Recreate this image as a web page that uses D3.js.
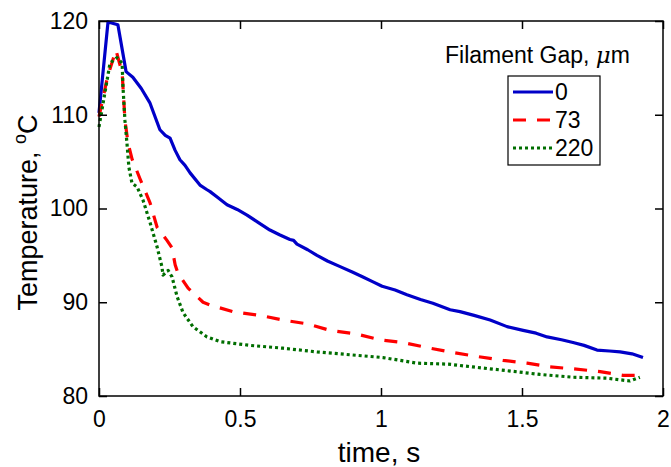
<!DOCTYPE html>
<html>
<head>
<meta charset="utf-8">
<script src="https://cdn.jsdelivr.net/npm/d3@7"></script>
<style>
  html, body { margin: 0; padding: 0; background: #fff; }
  svg { display: block; font-family: "Liberation Sans", Arial, sans-serif; }
</style>
</head>
<body>
<svg id="chart" width="671" height="467"></svg>
<script>
// ---- data ----
const xTicks = [0, 0.5, 1, 1.5, 2];
const yTicks = [80, 90, 100, 110, 120];
const seriesNames = ["0", "73", "220"];
const legendTitle = "Filament Gap, ";

const blueTime = [0, 0.032, 0.067, 0.096, 0.12, 0.15, 0.18, 0.216, 0.235, 0.252, 0.27, 0.287, 0.305, 0.323, 0.358, 0.383, 0.394, 0.42, 0.454, 0.49, 0.525, 0.56, 0.606, 0.64, 0.677, 0.69, 0.702, 0.74, 0.773, 0.81, 0.855, 0.9, 0.936, 0.97, 1.004, 1.05, 1.092, 1.14, 1.184, 1.245, 1.28, 1.33, 1.387, 1.447, 1.504, 1.55, 1.589, 1.64, 1.681, 1.72, 1.766, 1.81, 1.848, 1.89, 1.929];
const blueTemp = [110.2, 119.9, 119.6, 114.6, 114.0, 112.8, 111.3, 108.4, 107.8, 107.5, 106.2, 105.2, 104.6, 103.8, 102.5, 102.0, 101.8, 101.2, 100.4, 99.9, 99.3, 98.6, 97.7, 97.2, 96.7, 96.6, 96.2, 95.6, 95.0, 94.4, 93.8, 93.2, 92.7, 92.2, 91.7, 91.3, 90.8, 90.3, 89.9, 89.2, 89.0, 88.6, 88.1, 87.4, 87.0, 86.7, 86.3, 86.0, 85.7, 85.4, 84.9, 84.8, 84.7, 84.5, 84.1];

const redTime = [0, 0.03, 0.06, 0.082, 0.092, 0.103, 0.117, 0.145, 0.181, 0.206, 0.241, 0.259, 0.27, 0.28, 0.316, 0.369, 0.394, 0.475, 0.571, 0.652, 0.738, 0.819, 0.915, 0.996, 1.078, 1.174, 1.245, 1.344, 1.433, 1.518, 1.599, 1.681, 1.777, 1.858, 1.929];
const redTemp = [109.8, 114.0, 116.9, 114.5, 109.4, 107.0, 105.3, 103.2, 100.6, 98.0, 96.6, 95.8, 94.0, 93.1, 91.5, 90.0, 89.7, 89.0, 88.6, 88.1, 87.7, 87.0, 86.6, 86.0, 85.7, 85.1, 84.7, 84.2, 83.8, 83.5, 83.1, 82.9, 82.6, 82.2, 82.2];

const greenTime = [0, 0.039, 0.064, 0.082, 0.085, 0.092, 0.099, 0.106, 0.117, 0.135, 0.156, 0.181, 0.206, 0.223, 0.227, 0.245, 0.259, 0.277, 0.298, 0.333, 0.383, 0.429, 0.535, 0.652, 0.773, 0.89, 1.007, 1.128, 1.238, 1.326, 1.447, 1.564, 1.681, 1.801, 1.883, 1.918];
const greenTemp = [108.7, 115.5, 116.1, 115.5, 113.0, 109.4, 107.0, 104.4, 102.7, 102.3, 100.9, 98.5, 95.9, 93.8, 92.9, 93.4, 92.7, 90.6, 88.9, 87.4, 86.3, 85.8, 85.4, 85.1, 84.7, 84.4, 84.1, 83.5, 83.4, 83.1, 82.7, 82.3, 82.0, 81.9, 81.6, 82.0];

// ---- layout ----
const svg = d3.select("#chart");
const L = 99, R = 663, T = 21, B = 396;
const x = d3.scaleLinear().domain([0, 2]).range([L, R]);
const y = d3.scaleLinear().domain([80, 120]).range([B, T]);

const series = [
  { name: seriesNames[0], t: blueTime, v: blueTemp, color: "#0000c8", dash: null },
  { name: seriesNames[1], t: redTime, v: redTemp, color: "#ff0000", dash: "13,11" },
  { name: seriesNames[2], t: greenTime, v: greenTemp, color: "#006e00", dash: "3,3" }
];

const line = d3.line().x(d => x(d[0])).y(d => y(d[1]));

const plot = svg.append("g");
series.forEach(s => {
  const pts = s.t.map((t, i) => [t, s.v[i]]);
  plot.append("path")
    .attr("d", line(pts))
    .attr("fill", "none")
    .attr("stroke", s.color)
    .attr("stroke-width", 3.2)
    .attr("stroke-dasharray", s.dash)
    .attr("stroke-linejoin", "round");
});

// axes
const tickLen = 8;
const fs = 23;
const gBottom = svg.append("g").attr("transform", `translate(0,${B})`)
  .call(d3.axisBottom(x).tickValues(xTicks).tickSizeInner(-tickLen).tickSizeOuter(0).tickPadding(15).tickFormat(d3.format("")));
const gLeft = svg.append("g").attr("transform", `translate(${L},0)`)
  .call(d3.axisLeft(y).tickValues(yTicks).tickSizeInner(-tickLen).tickSizeOuter(0).tickPadding(11).tickFormat(d3.format("")));
const gTop = svg.append("g").attr("transform", `translate(0,${T})`)
  .call(d3.axisTop(x).tickValues(xTicks).tickSizeInner(-tickLen).tickSizeOuter(0).tickFormat(""));
const gRight = svg.append("g").attr("transform", `translate(${R},0)`)
  .call(d3.axisRight(y).tickValues(yTicks).tickSizeInner(-tickLen).tickSizeOuter(0).tickFormat(""));
[gBottom, gLeft, gTop, gRight].forEach(g => {
  g.select(".domain").remove();
  g.selectAll("line").attr("stroke", "#000").attr("stroke-width", 1.5);
  g.selectAll("text").attr("font-size", fs).attr("font-family", "Liberation Sans, Arial, sans-serif").attr("fill", "#000");
});
gBottom.selectAll("text").attr("dy", "0.71em");

svg.append("rect").attr("x", L).attr("y", T).attr("width", R - L).attr("height", B - T)
  .attr("fill", "none").attr("stroke", "#000").attr("stroke-width", 1.5);

// axis labels
svg.append("text").attr("x", (L + R) / 2 - 2).attr("y", 462).attr("text-anchor", "middle")
  .attr("font-size", 28).text("time, s");
const yl = svg.append("text").attr("transform", `translate(37,${(T + B) / 2 + 4}) rotate(-90)`)
  .attr("text-anchor", "middle").attr("font-size", 27);
yl.append("tspan").text("Temperature, ");
yl.append("tspan").attr("font-size", 18).attr("dy", -11).text("o");
yl.append("tspan").attr("dy", 11).text("C");

// legend
const lt = svg.append("text").attr("x", 445).attr("y", 63).attr("font-size", 23);
lt.append("tspan").text(legendTitle);
lt.append("tspan").attr("font-family", "DejaVu Serif, serif").attr("font-style", "italic").text("\u03bc");
lt.append("tspan").text("m");

svg.append("rect").attr("x", 508).attr("y", 76).attr("width", 92).attr("height", 89)
  .attr("fill", "#fff").attr("stroke", "#000").attr("stroke-width", 1.2);
const ly = d3.scaleBand().domain(seriesNames).range([78, 162]);
series.forEach(s => {
  const cy = ly(s.name) + ly.bandwidth() / 2;
  svg.append("line").attr("x1", 513).attr("x2", 553).attr("y1", cy).attr("y2", cy)
    .attr("stroke", s.color).attr("stroke-width", 3).attr("stroke-dasharray", s.dash);
  svg.append("text").attr("x", 555).attr("y", cy + 8).attr("font-size", 23).text(s.name);
});
</script>
</body>
</html>
